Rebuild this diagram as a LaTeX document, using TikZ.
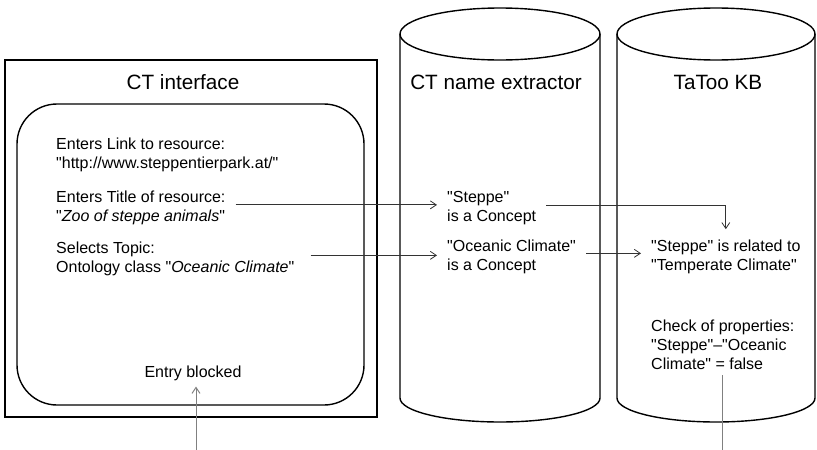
\documentclass[tikz,border=0pt]{standalone}
\usepackage{fontspec}
\setmainfont{Liberation Sans}[Ligatures=TeXOff]
\usetikzlibrary{arrows.meta}

\begin{document}
\begin{tikzpicture}[x=1pt,y=-1pt,>={Straight Barb[length=6pt,width=8pt]},
    box/.style={line width=1.4pt},
    txt/.style={anchor=base west,align=left,inner sep=0pt,font=\fontsize{16}{19}\selectfont},
    head/.style={anchor=base,inner sep=0pt,font=\fontsize{20.7}{24}\selectfont},
    link/.style={->,line width=0.8pt,black!80,shorten <=10pt,shorten >=10pt},
    feed/.style={line width=1pt,black!50}]
  \useasboundingbox (0,0) rectangle (817,450);
  % CT interface
  \draw[box] (5,60) rectangle (377,417);
  \draw[box,rounded corners=40pt] (17,104) rectangle (364,405);
  % the two stores
  \draw[box] (400,34) -- (400,398) arc[start angle=180,end angle=360,x radius=100pt,y radius=24pt] -- (600,34);
  \draw[box] (500,34) ellipse[x radius=100pt,y radius=26pt];
  \draw[box] (617,34) -- (617,398) arc[start angle=180,end angle=360,x radius=99pt,y radius=24pt] -- (815,34);
  \draw[box] (716,34) ellipse[x radius=99pt,y radius=26pt];

  \node[head] (ifc) at (183,89) {CT interface};
  \node[head] (ext) at (496,89) {CT name extractor};
  \node[head] (kb) at (718,89) {TaToo KB};

  % last line of each block sits on the given baseline
  \node[txt] (lnk) at (56,168) {Enters Link to resource:\\"http://www.steppentierpark.at/"};
  \node[txt] (ttl) at (56,221) {Enters Title of resource:\\"\textit{Zoo of steppe animals}"};
  \node[txt] (tpc) at (56,272) {Selects Topic:\\Ontology class "\textit{Oceanic Climate}"};
  \node[txt,anchor=base] (blk) at (193,377) {Entry blocked};
  \node[txt] (stc) at (447,221) {"Steppe"\\is a Concept};
  \node[txt] (occ) at (447,270) {"Oceanic Climate"\\is a Concept};
  \node[txt] (rel) at (651,270) {"Steppe" is related to\\"Temperate Climate"};
  \node[txt] (chk) at (651,369) {Check of properties:\\"Steppe"–"Oceanic\\Climate" = false};

  \draw[link] ([yshift=2.5pt]ttl.east) -- ([yshift=2.5pt]ttl.east -| stc.west);
  \draw[link] ([yshift=2.5pt]stc.east) -| (rel.north);
  \draw[link,shorten <=16pt] ([yshift=3pt]tpc.east) -- ([yshift=3pt]tpc.east -| occ.west);
  \draw[link] ([yshift=3pt]occ.east) -- ([yshift=3pt]occ.east -| rel.west);

  \coordinate (inlet) at (196,450);
  \draw[feed,->,shorten >=6pt] (inlet) -- (inlet |- blk.south);
  \draw[feed,shorten <=6pt] (chk.south) -- (chk.south |- inlet);
\end{tikzpicture}
\end{document}
